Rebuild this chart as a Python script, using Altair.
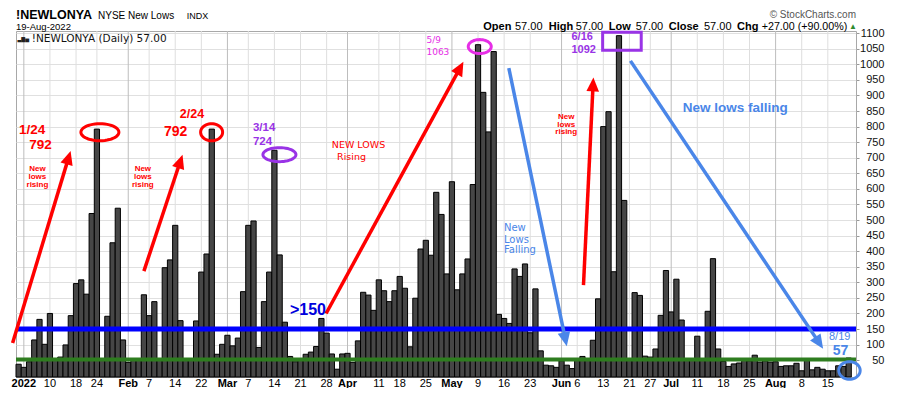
import math
import altair as alt
import pandas as pd

# ---------------- values ----------------
dec_2021 = [37]
jan = [27, 45, 115, 181, 101, 200, 52, 60, 99, 193, 296, 308, 262, 521, 792, 52, 191, 427, 538, 115]
feb = [43, 50, 52, 260, 193, 238, 52, 347, 372, 483, 177, 50, 52, 176, 333, 391, 792, 69, 101]
mar = [130, 96, 121, 270, 483, 497, 91, 238, 333, 724, 388, 172, 62, 45, 50, 69, 76, 94, 184, 137, 70, 21, 70]
apr = [72, 43, 112, 268, 259, 210, 308, 273, 238, 273, 319, 281, 93, 249, 407, 435, 387, 589, 518, 327]
may = [623, 276, 327, 375, 614, 1063, 910, 783, 1041, 197, 184, 168, 343, 319, 359, 138, 279, 80, 34, 32, 27]
jun = [48, 34, 23, 50, 62, 55, 114, 247, 800, 848, 334, 1092, 563, 52, 267, 258, 63, 60, 86, 194, 338]
jul = [205, 310, 179, 50, 50, 127, 52, 207, 376, 86, 46, 30, 38, 41, 50, 48, 66, 44, 48, 44]
aug = [45, 30, 32, 32, 40, 16, 52, 19, 27, 21, 16, 16, 32, 30, 57]

holidays = ["2022-01-17", "2022-02-21", "2022-04-15", "2022-05-30", "2022-06-20", "2022-07-04"]
tick_dates = ["2022-01-03", "2022-01-10", "2022-01-18", "2022-01-24", "2022-02-01", "2022-02-07",
              "2022-02-14", "2022-02-22", "2022-03-01", "2022-03-07", "2022-03-14", "2022-03-21",
              "2022-03-28", "2022-04-01", "2022-04-11", "2022-04-18", "2022-04-25", "2022-05-02",
              "2022-05-09", "2022-05-16", "2022-05-23", "2022-06-01", "2022-06-06", "2022-06-13",
              "2022-06-21", "2022-06-27", "2022-07-01", "2022-07-11", "2022-07-18", "2022-07-25",
              "2022-08-01", "2022-08-08", "2022-08-15"]
tick_labels = ["2022", "10", "18", "24", "Feb", "7", "14", "22", "Mar", "7", "14", "21", "28", "Apr",
               "11", "18", "25", "May", "9", "16", "23", "Jun", "6", "13", "21", "27", "Jul", "11",
               "18", "25", "Aug", "8", "15"]
y_ticks = list(range(50, 1101, 50))
blue_level = 150
green_level = 52

# ---------------- layout / style ----------------
W, H = 840, 346
X_DOM = [-0.5, 160.4]
Y_DOM = [-4, 1107]
SX = W / (X_DOM[1] - X_DOM[0])
SY = H / (Y_DOM[1] - Y_DOM[0])

RED = "#ff0000"
LBLUE = "#4a86e8"
PURPLE = "#9933e6"
MAGENTA = "#e62ee6"
BLUE = "#0000ff"
GREEN = "#2e7d1f"
SANS = "Liberation Sans"
VERD = "DejaVu Sans"

values = dec_2021 + jan + feb + mar + apr + may + jun + jul + aug
dates = pd.bdate_range("2021-12-31", "2022-08-19")
dates = dates[~dates.isin(pd.to_datetime(holidays))]
bars = pd.DataFrame({"i": list(range(len(values))), "date": dates.strftime("%Y-%m-%d"), "v": values})
pos = {d: k for k, d in enumerate(bars["date"])}
ticks = pd.DataFrame({"i": [pos[d] for d in tick_dates], "label": tick_labels})
ticks["bold"] = ~ticks["label"].str.fullmatch(r"\d{1,2}")
ticks["gc"] = ticks["bold"].map({True: "#bdbdbd", False: "#dedede"})

ONE = pd.DataFrame({"a": [0]})

YAXIS = alt.Axis(orient="right", values=y_ticks, format="d", title=None, grid=True,
                 gridColor="#e0e0e0", domain=False, tickSize=3, tickColor="#999999",
                 labelAlign="right", labelPadding=25, labelFont=SANS, labelFontSize=11,
                 labelColor="#111111")


def X(field="i"):
    return alt.X(f"{field}:Q", scale=alt.Scale(domain=X_DOM, nice=False, zero=False), axis=None)


def Y(field="v"):
    return alt.Y(f"{field}:Q", scale=alt.Scale(domain=Y_DOM, nice=False, zero=False), axis=YAXIS)


# ---------------- base layers ----------------
vgrid = alt.Chart(ticks).mark_rule(strokeWidth=1).encode(
    x=X("i"), y=alt.value(0), y2=alt.value(H), color=alt.Color("gc:N", scale=None))

bar_layer = alt.Chart(bars).transform_calculate(
    x0="datum.i - 0.5", x1="datum.i + 0.5"
).mark_rect(fill="#464646", stroke="#000000", strokeWidth=1).encode(
    x=X("x0"), x2="x1:Q", y=Y("v"), y2=alt.value(H))

levels = pd.DataFrame({"v": [green_level, blue_level], "c": [GREEN, BLUE], "w": [4, 5]})
level_layer = alt.Chart(levels).mark_rule().encode(
    y=Y("v"), x=alt.value(0), x2=alt.value(W),
    color=alt.Color("c:N", scale=None), strokeWidth=alt.StrokeWidth("w:Q", scale=None))

# ---------------- arrows ----------------
HEAD = 14
arrows = [  # tail (index, value) -> tip (index, value)
    (-1.15, 105, 9.96, 722, RED),
    (24.0, 336, 31.4, 710, RED),
    (58.9, 200, 85.2, 1008, RED),
    (93.9, 988, 105.0, 95, LBLUE),
    (108.2, 291, 110.1, 958, RED),
    (117.2, 1011, 154.1, 87, LBLUE),
]
a_rows = []
for ti, tv, hi, hv, col in arrows:
    dx = (hi - ti) * SX
    dy = -(hv - tv) * SY
    ln = math.hypot(dx, dy)
    ux, uy = dx / ln, dy / ln
    ang = math.degrees(math.atan2(ux, -uy)) % 360
    bi = hi - ux * HEAD * 0.8 / SX
    bv = hv + uy * HEAD * 0.8 / SY
    a_rows.append({"ti": ti, "tv": tv, "bi": bi, "bv": bv, "hi": hi, "hv": hv, "ang": ang, "c": col})
adf = pd.DataFrame(a_rows)
arrow_lines = alt.Chart(adf).mark_rule(strokeWidth=3.5, strokeCap="butt").encode(
    x=X("ti"), y=Y("tv"), x2="bi:Q", y2="bv:Q", color=alt.Color("c:N", scale=None))
head_path = "M0,0 L0.45,1 L-0.45,1 Z"
arrow_heads = alt.Chart(adf).mark_point(shape=head_path, filled=True, opacity=1,
                                         size=(2 * HEAD) ** 2, strokeWidth=0).encode(
    x=X("hi"), y=Y("hv"), angle=alt.Angle("ang:Q", scale=None), color=alt.Color("c:N", scale=None))


# ---------------- ellipses ----------------
def ellipse_path(k, n=48):
    pts = [(math.cos(2 * math.pi * j / n), k * math.sin(2 * math.pi * j / n)) for j in range(n)]
    return "M" + " L".join(f"{px:.4f},{py:.4f}" for px, py in pts) + " Z"


ellipses = [  # centre (index, value), radii in px
    (15.57, 782, 19, 8.5, RED),
    (36.97, 782, 11, 8.5, RED),
    (49.96, 710, 16.5, 7, PURPLE),
    (88.33, 1057, 11.5, 7, MAGENTA),
    (159.15, 17, 10.7, 8.8, LBLUE),
]
edf = pd.DataFrame([{"i": i, "v": v, "shape": ellipse_path(ry / rx), "size": (2 * rx) ** 2, "c": c}
                    for i, v, rx, ry, c in ellipses])
ellipse_layer = alt.Chart(edf).mark_point(filled=False, strokeWidth=3, opacity=1).encode(
    x=X("i"), y=Y("v"), shape=alt.Shape("shape:N", scale=None),
    size=alt.Size("size:Q", scale=None), color=alt.Color("c:N", scale=None))

box = pd.DataFrame({"i0": [111.87], "i1": [119.26], "v0": [1103], "v1": [1045]})
box_layer = alt.Chart(box).mark_rect(fill="transparent", stroke=PURPLE, strokeWidth=3).encode(
    x=X("i0"), x2="i1:Q", y=Y("v0"), y2="v1:Q")


# ---------------- annotation texts ----------------
def ann_text(rows, color, size, weight="normal", font=SANS, align="left"):
    df = pd.DataFrame(rows, columns=["i", "v", "t"])
    return alt.Chart(df).mark_text(color=color, fontSize=size, fontWeight=weight, font=font,
                                   align=align, baseline="alphabetic").encode(
        x=X("i"), y=Y("v"), text="t:N")


texts = [
    ann_text([(2.61, 776, "1/24"), (4.21, 727, "792")], RED, 13.5, "bold", align="center"),
    ann_text([(30.08, 770, "792")], RED, 14, "bold", align="center"),
    ann_text([(33.2, 827, "2/24")], RED, 12.5, "bold", align="center"),
    ann_text([(3.6, 658, "New"), (3.6, 632, "lows"), (3.6, 607, "rising"),
              (23.8, 658, "New"), (23.8, 632, "lows"), (23.8, 607, "rising"),
              (104.9, 825, "New"), (104.9, 800, "lows"), (104.9, 775, "rising")],
             RED, 8, "bold", align="center"),
    ann_text([(60.0, 730, "NEW LOWS"), (61.0, 692, "Rising")], RED, 9.5, font=VERD),
    ann_text([(44.89, 787, "3/14"), (44.89, 742, "724")], PURPLE, 11.5, "bold"),
    ann_text([(105.9, 1078, "6/16"), (105.9, 1036, "1092")], PURPLE, 11, "bold"),
    ann_text([(78.12, 1068, "5/9"), (78.12, 1029, "1063")], MAGENTA, 9, font=VERD),
    ann_text([(51.97, 195, ">150")], "#0000dd", 16, "bold"),
    ann_text([(92.97, 465, "New"), (92.97, 427, "Lows"), (92.97, 393, "Falling")], LBLUE, 10, font=VERD),
    ann_text([(127.2, 846, "New lows falling")], LBLUE, 13.5, "bold"),
    ann_text([(157.27, 116, "8/19")], LBLUE, 11, align="center"),
    ann_text([(157.43, 67, "57")], LBLUE, 14, "bold", align="center"),
]

# ---------------- x-axis labels ----------------
xl_bold = alt.Chart(ticks[ticks["bold"]]).mark_text(
    font=SANS, fontSize=11, fontWeight="bold", baseline="alphabetic", color="#000000").encode(
    x=X("i"), y=alt.value(H + 10), text="label:N")
xl_norm = alt.Chart(ticks[~ticks["bold"]]).mark_text(
    font=SANS, fontSize=11, baseline="alphabetic", color="#000000").encode(
    x=X("i"), y=alt.value(H + 10), text="label:N")


# ---------------- header texts ----------------
def ptext(px, py, s, size=11, weight="normal", color="#000000", font=SANS, align="left"):
    return alt.Chart(ONE).mark_text(fontSize=size, fontWeight=weight, color=color, font=font,
                                    align=align, baseline="alphabetic").encode(
        x=alt.value(px), y=alt.value(py), text=alt.value(s))


OPEN_Y = -1.5
headers = [
    ptext(0, -11.8, "!NEWLONYA", 12.5, "bold"),
    ptext(82, -11.8, "NYSE New Lows", 10),
    ptext(170.7, -11.8, "INDX", 9),
    ptext(0, -0.8, "19-Aug-2022", 9.5),
    ptext(840, -13.5, "\u00a9 StockCharts.com", 10, color="#555555", align="right"),
    ptext(467.3, OPEN_Y, "Open", 11, "bold"), ptext(499, OPEN_Y, "57.00", 11),
    ptext(532.7, OPEN_Y, "High", 11, "bold"), ptext(559.7, OPEN_Y, "57.00", 11),
    ptext(592.7, OPEN_Y, "Low", 11, "bold"), ptext(619.7, OPEN_Y, "57.00", 11),
    ptext(652.7, OPEN_Y, "Close", 11, "bold"), ptext(688, OPEN_Y, "57.00", 11),
    ptext(721, OPEN_Y, "Chg", 11, "bold"), ptext(745.7, OPEN_Y, "+27.00 (+90.00%)", 10.7),
    ptext(833, OPEN_Y - 0.5, "\u25b2", 8, color="#2e8b2e"),
    ptext(1.5, 10, "\u2583\u2587\u2585", 5, color="#222222", font=VERD),
    ptext(15.7, 10.5, "!NEWLONYA (Daily) 57.00", 10.5, font=VERD, color="#111111"),
]

chart = alt.layer(
    vgrid, bar_layer, level_layer, arrow_lines, arrow_heads, ellipse_layer, box_layer,
    *texts, xl_bold, xl_norm, *headers
).properties(
    width=W, height=H,
    autosize=alt.AutoSizeParams(type="none"),
    padding={"left": 8, "top": 23, "right": 36, "bottom": 11},
).configure_view(stroke="#a8a8a8", strokeWidth=1)

chart.save("out.html", embed_options={"renderer": "svg", "actions": False})
